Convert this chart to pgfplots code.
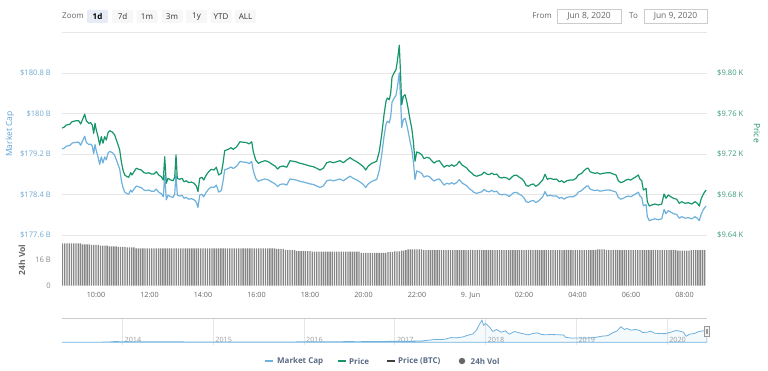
\documentclass[border=0pt]{standalone}
\usepackage{pgfplots}
\pgfplotsset{compat=1.18}
\usepackage{pgfplotstable}
\usepackage{fontspec}
\setmainfont{Open Sans}
\definecolor{mc}{HTML}{6FB1DD}
\definecolor{pr}{HTML}{17966C}
\definecolor{mclab}{HTML}{6FA8D2}
\definecolor{prlab}{HTML}{3C9A76}
\definecolor{mctit}{HTML}{5DA3D6}
\definecolor{prtit}{HTML}{1E8F64}
\definecolor{gridc}{HTML}{E6E6E6}
\definecolor{xlab}{HTML}{666666}
\definecolor{vlab}{HTML}{8A8A8A}
\definecolor{navlab}{HTML}{999999}
\definecolor{legtxt}{HTML}{5A6A85}
\definecolor{volc}{HTML}{858585}
\definecolor{selbtn}{HTML}{E6EBF5}
\definecolor{btn}{HTML}{F7F7F7}
\definecolor{boxc}{HTML}{CCCCCC}
\definecolor{handle}{HTML}{F2F2F2}
\newcommand\tlfont{\fontsize{7.6}{9}\selectfont}
\newcommand\xlfont{\fontsize{7.2}{9}\selectfont}
\newcommand\uifont{\fontsize{8}{10}\selectfont}
\newcommand\datefont{\fontsize{8.5}{10}\selectfont}
\newcommand\legfont{\fontsize{8}{10}\selectfont\bfseries}
\newcommand\titfont{\fontsize{8.5}{10}\selectfont}

\pgfplotstableread{
h p m
8.729 9.7457 179.301
8.804 9.7464 179.313
8.890 9.7486 179.355
9.017 9.7493 179.368
9.103 9.7519 179.415
9.264 9.7529 179.433
9.353 9.7529 179.433
9.428 9.7496 179.373
9.488 9.7536 179.446
9.578 9.7592 179.550
9.637 9.7529 179.433
9.727 9.7503 179.386
9.802 9.7509 179.397
9.862 9.7486 179.355
9.914 9.7404 179.204
9.963 9.7503 179.386
10.011 9.7437 179.264
10.075 9.7371 179.143
10.138 9.7289 178.992
10.198 9.7371 179.143
10.262 9.7306 179.023
10.325 9.7371 179.143
10.385 9.7338 179.083
10.449 9.7410 179.215
10.512 9.7430 179.252
10.609 9.7417 179.228
10.699 9.7388 179.174
10.796 9.7312 179.034
10.886 9.7240 178.901
10.946 9.7124 178.688
11.009 9.7042 178.538
11.073 9.6993 178.447
11.159 9.6976 178.416
11.222 9.6970 178.405
11.297 9.7015 178.488
11.346 9.6993 178.447
11.421 9.7025 178.507
11.507 9.7059 178.568
11.596 9.7049 178.550
11.693 9.7042 178.538
11.794 9.7015 178.488
11.880 9.7009 178.478
11.970 9.7015 178.488
12.067 9.7002 178.465
12.168 9.7002 178.465
12.254 9.7025 178.507
12.343 9.6993 178.447
12.441 9.6976 178.416
12.516 9.6943 178.356
12.568 9.7173 178.779
12.628 9.6911 178.296
12.692 9.6960 178.387
12.793 9.6943 178.356
12.879 9.6936 178.343
12.942 9.6970 178.405
12.991 9.7190 178.810
13.039 9.6960 178.387
13.129 9.6950 178.369
13.215 9.6960 178.387
13.290 9.6926 178.325
13.376 9.6936 178.343
13.465 9.6917 178.307
13.563 9.6923 178.319
13.664 9.6911 178.296
13.750 9.6884 178.247
13.813 9.6828 178.143
13.877 9.6960 178.387
13.963 9.6970 178.405
14.026 9.6943 178.356
14.123 9.6993 178.447
14.213 9.7025 178.507
14.310 9.7049 178.550
14.411 9.7042 178.538
14.497 9.7069 178.587
14.587 9.6993 178.447
14.684 9.7009 178.478
14.748 9.7108 178.659
14.811 9.7233 178.888
14.946 9.7246 178.914
15.047 9.7262 178.943
15.133 9.7246 178.914
15.260 9.7272 178.961
15.383 9.7321 179.052
15.507 9.7316 179.041
15.634 9.7312 179.034
15.720 9.7299 179.010
15.821 9.7321 179.052
15.880 9.7223 178.870
15.970 9.7141 178.719
16.067 9.7108 178.659
16.195 9.7124 178.688
16.318 9.7134 178.707
16.441 9.7124 178.688
16.568 9.7101 178.647
16.692 9.7081 178.610
16.793 9.7052 178.556
16.878 9.7075 178.598
17.002 9.7081 178.610
17.129 9.7069 178.587
17.252 9.7134 178.707
17.376 9.7128 178.696
17.503 9.7121 178.683
17.626 9.7108 178.659
17.749 9.7101 178.647
17.877 9.7091 178.628
18.000 9.7081 178.610
18.123 9.7075 178.598
18.250 9.7059 178.568
18.374 9.7042 178.538
18.497 9.7059 178.568
18.624 9.7114 178.670
18.748 9.7124 178.688
18.871 9.7114 178.670
18.998 9.7124 178.688
19.121 9.7134 178.707
19.245 9.7114 178.670
19.372 9.7141 178.719
19.495 9.7164 178.761
19.619 9.7141 178.719
19.746 9.7124 178.688
19.869 9.7101 178.647
19.992 9.7075 178.598
20.082 9.7042 178.538
20.179 9.7081 178.610
20.307 9.7108 178.659
20.493 9.7128 178.696
20.591 9.7227 178.877
20.680 9.7391 179.179
20.766 9.7588 179.542
20.841 9.7721 179.786
20.890 9.7753 179.846
20.964 9.7736 179.815
21.017 9.7802 179.937
21.065 9.7958 180.222
21.140 9.8000 180.300
21.215 9.8033 180.360
21.264 9.8116 180.513
21.338 9.8274 180.803
21.391 9.7951 180.209
21.428 9.7687 179.724
21.488 9.7770 179.877
21.551 9.7786 179.906
21.615 9.7721 179.786
21.675 9.7638 179.633
21.738 9.7539 179.452
21.802 9.7457 179.301
21.862 9.7325 179.059
21.925 9.7128 178.696
21.989 9.7220 178.865
22.086 9.7210 178.846
22.176 9.7193 178.816
22.262 9.7154 178.743
22.363 9.7167 178.768
22.460 9.7160 178.756
22.549 9.7134 178.707
22.635 9.7111 178.665
22.736 9.7128 178.696
22.834 9.7134 178.707
22.923 9.7101 178.647
23.009 9.7069 178.587
23.110 9.7088 178.623
23.207 9.7079 178.605
23.297 9.7094 178.634
23.383 9.7079 178.605
23.484 9.7094 178.634
23.581 9.7128 178.696
23.671 9.7094 178.634
23.757 9.7079 178.605
23.858 9.7062 178.574
23.955 9.7029 178.514
24.045 9.7012 178.483
24.131 9.6990 178.441
24.232 9.6980 178.423
24.329 9.6990 178.441
24.419 9.6996 178.452
24.505 9.7022 178.501
24.606 9.7002 178.465
24.703 9.6996 178.452
24.792 9.7012 178.483
24.878 9.6996 178.452
24.979 9.7002 178.465
25.077 9.6970 178.405
25.166 9.6963 178.392
25.252 9.6970 178.405
25.353 9.6963 178.392
25.450 9.6946 178.361
25.540 9.6970 178.405
25.626 9.6990 178.441
25.727 9.6990 178.441
25.824 9.6970 178.405
25.914 9.6956 178.379
26.000 9.6930 178.332
26.075 9.6891 178.260
26.161 9.6881 178.241
26.250 9.6897 178.270
26.348 9.6904 178.283
26.437 9.6881 178.241
26.535 9.6897 178.270
26.699 9.6943 178.356
26.785 9.7000 178.459
26.871 9.6950 178.369
26.972 9.6960 178.387
27.095 9.6950 178.369
27.222 9.6950 178.369
27.320 9.6926 178.325
27.409 9.6936 178.343
27.495 9.6917 178.307
27.596 9.6936 178.343
27.720 9.6943 178.356
27.843 9.6943 178.356
27.944 9.6960 178.387
28.030 9.6993 178.447
28.157 9.7009 178.478
28.243 9.7035 178.525
28.344 9.7059 178.568
28.404 9.7059 178.568
28.467 9.7025 178.507
28.568 9.7015 178.488
28.654 9.7009 178.478
28.740 9.7015 178.488
28.841 9.7002 178.465
28.964 9.7009 178.478
29.092 9.7015 178.488
29.215 9.7015 178.488
29.338 9.7002 178.465
29.439 9.6993 178.447
29.525 9.6936 178.343
29.615 9.6917 178.307
29.712 9.6926 178.325
29.813 9.6943 178.356
29.899 9.6950 178.369
29.989 9.6943 178.356
30.086 9.6960 178.387
30.187 9.6976 178.416
30.273 9.6993 178.447
30.336 9.6950 178.369
30.400 9.6936 178.343
30.460 9.6844 178.174
30.561 9.6861 178.205
30.609 9.6729 177.962
30.684 9.6686 177.883
30.774 9.6696 177.902
30.897 9.6706 177.920
31.020 9.6696 177.902
31.148 9.6706 177.920
31.234 9.6805 178.101
31.308 9.6763 178.023
31.394 9.6795 178.083
31.484 9.6778 178.052
31.581 9.6763 178.023
31.708 9.6753 178.005
31.805 9.6713 177.932
31.895 9.6729 177.962
32.019 9.6713 177.932
32.142 9.6719 177.943
32.269 9.6706 177.920
32.392 9.6729 177.962
32.478 9.6713 177.932
32.553 9.6686 177.883
32.617 9.6753 178.005
32.703 9.6805 178.101
32.804 9.6844 178.174
}\maindata

\begin{document}
\begin{tikzpicture}
\useasboundingbox (0pt,0pt) rectangle (768pt,370pt);

% ---------- main panel: market cap ----------
\begin{axis}[
  at={(62pt,135pt)}, anchor=south west, scale only axis,
  width=645pt, height=202.5pt,
  xmin=8.729, xmax=32.84, ymin=177.6, ymax=181.6,
  xtick=\empty,
  ytick={177.6,178.4,179.2,180,180.8,181.6},
  yticklabels={\$177.6 B,\$178.4 B,\$179.2 B,\$180 B,\$180.8 B,{}},
  ymajorgrids, major grid style={gridc, line width=0.7pt},
  axis line style={draw=none}, major tick length=0pt,
  yticklabel style={font=\tlfont, text=mclab, anchor=east, inner sep=0pt, xshift=-11pt},
]
\addplot[mc, line width=1.2pt, line join=round] table[x=h,y=m]{\maindata};
\end{axis}

% ---------- main panel: price ----------
\begin{axis}[
  at={(62pt,135pt)}, anchor=south west, scale only axis,
  width=645pt, height=202.5pt,
  xmin=8.729, xmax=32.84, ymin=9.64, ymax=9.84,
  xtick=\empty,
  ytick={9.64,9.68,9.72,9.76,9.80},
  yticklabels={\$9.64 K,\$9.68 K,\$9.72 K,\$9.76 K,\$9.80 K},
  yticklabel pos=right,
  axis line style={draw=none}, major tick length=0pt,
  yticklabel style={font=\tlfont, text=prlab, anchor=west, inner sep=0pt, xshift=10pt},
]
\addplot[pr, line width=1.2pt, line join=round] table[x=h,y=p]{\maindata};
\end{axis}

% ---------- volume panel ----------
\begin{axis}[
  at={(62pt,84.3pt)}, anchor=south west, scale only axis,
  width=645pt, height=51.4pt,
  xmin=523.7, xmax=1970.4, ymin=0, ymax=32,
  ytick={0,16}, yticklabels={0,16 B},
  xtick={600,720,840,960,1080,1200,1320,1440,1560,1680,1800,1920},
  xticklabels={10:00,12:00,14:00,16:00,18:00,20:00,22:00,9. Jun,02:00,04:00,06:00,08:00},
  axis line style={draw=none}, major tick length=0pt,
  yticklabel style={font=\tlfont, text=vlab, anchor=east, inner sep=0pt, xshift=-11pt},
  xticklabel style={font=\xlfont, text=xlab, anchor=north, inner sep=0pt, yshift=-6.5pt},
]
\addplot[ybar, bar width=3.0, fill=volc, draw=none] coordinates {
(525,26.3)(530,26.3)(535,26.3)(540,26.3)(545,26.3)(550,26.3)(555,26.3)(560,26.3)(565,26.3)
(570,25.8)(575,25.8)(580,25.8)(585,25.8)
(590,25.4)(595,25.4)(600,25.4)(605,25.4)
(610,24.9)(615,24.9)(620,24.9)(625,24.9)
(630,24.5)(635,24.5)(640,24.5)(645,24.5)
(650,24.1)(655,24.1)(660,24.1)(665,24.1)
(670,23.8)(675,23.8)(680,23.8)(685,23.8)
(690,23.3)(695,23.3)(700,23.3)(705,23.3)(710,23.3)(715,23.3)(720,23.3)(725,23.3)(730,23.3)(735,23.3)
(740,23.3)(745,23.3)(750,23.3)(755,23.3)(760,23.3)(765,23.3)(770,23.3)(775,23.3)(780,23.3)(785,23.3)
(790,23.3)(795,23.3)(800,23.3)(805,23.3)(810,23.3)(815,23.3)(820,23.3)(825,23.3)(830,23.3)(835,23.3)
(840,23.3)(845,23.3)(850,23.3)(855,23.3)(860,23.3)(865,23.3)(870,23.3)(875,23.3)(880,23.3)(885,23.3)
(890,23.3)(895,23.3)(900,23.3)(905,23.3)(910,23.3)(915,23.3)(920,23.3)(925,23.3)(930,23.3)(935,23.3)
(940,23.3)(945,23.3)(950,23.3)(955,23.3)(960,23.3)(965,23.3)(970,23.3)(975,23.3)(980,23.3)(985,23.3)
(990,23.3)(995,23.3)(1000,23.3)
(1005,22.9)(1010,22.9)(1015,22.9)(1020,22.9)
(1025,22.2)(1030,22.2)(1035,22.2)(1040,22.2)(1045,22.2)
(1050,21.6)(1055,21.6)(1060,21.6)(1065,21.6)(1070,21.6)(1075,21.6)(1080,21.6)
(1085,21.2)(1090,21.2)(1095,21.2)(1100,21.2)(1105,21.2)(1110,21.2)(1115,21.2)(1120,21.2)(1125,21.2)(1130,21.2)
(1135,21.2)(1140,21.2)(1145,21.2)(1150,21.2)(1155,21.2)(1160,21.2)(1165,21.2)(1170,21.2)(1175,21.2)(1180,21.2)
(1185,21.2)(1190,21.2)
(1195,20.4)(1200,20.4)(1205,20.4)(1210,20.4)(1215,20.4)(1220,20.4)(1225,20.4)(1230,20.4)(1235,20.4)(1240,20.4)
(1245,20.4)(1250,20.4)
(1255,20.9)(1260,20.9)(1265,20.9)
(1270,21.4)(1275,21.4)(1280,21.4)
(1285,21.8)(1290,21.8)
(1295,22.2)
(1300,22.6)(1305,22.6)(1310,22.6)(1315,22.6)(1320,22.6)(1325,22.6)(1330,22.6)
(1335,22.2)(1340,22.2)(1345,22.2)(1350,22.2)(1355,22.2)(1360,22.2)(1365,22.2)(1370,22.2)(1375,22.2)(1380,22.2)
(1385,22.2)(1390,22.2)(1395,22.2)(1400,22.2)(1405,22.2)(1410,22.2)(1415,22.2)(1420,22.2)(1425,22.2)(1430,22.2)
(1435,22.2)(1440,22.2)(1445,22.2)(1450,22.2)(1455,22.2)(1460,22.2)(1465,22.2)(1470,22.2)(1475,22.2)(1480,22.2)
(1485,22.2)(1490,22.2)(1495,22.2)(1500,22.2)(1505,22.2)(1510,22.2)(1515,22.2)(1520,22.2)(1525,22.2)(1530,22.2)
(1535,22.2)(1540,22.2)(1545,22.2)(1550,22.2)(1555,22.2)(1560,22.2)(1565,22.2)(1570,22.2)(1575,22.2)(1580,22.2)
(1585,22.2)(1590,22.2)(1595,22.2)(1600,22.2)(1605,22.2)(1610,22.2)(1615,22.2)(1620,22.2)(1625,22.2)(1630,22.2)
(1635,22.2)(1640,22.2)(1645,22.2)(1650,22.2)(1655,22.2)(1660,22.2)(1665,22.2)(1670,22.2)(1675,22.2)(1680,22.2)
(1685,22.2)(1690,22.2)(1695,22.2)(1700,22.2)(1705,22.2)(1710,22.2)(1715,22.2)(1720,22.2)
(1725,22.6)(1730,22.6)(1735,22.6)(1740,22.6)
(1745,22.2)(1750,22.2)(1755,22.2)(1760,22.2)(1765,22.2)(1770,22.2)(1775,22.2)(1780,22.2)(1785,22.2)(1790,22.2)
(1795,22.2)(1800,22.2)(1805,22.2)(1810,22.2)(1815,22.2)(1820,22.2)(1825,22.2)(1830,22.2)(1835,22.2)(1840,22.2)
(1845,22.2)(1850,22.2)(1855,22.2)(1860,22.2)(1865,22.2)(1870,22.2)(1875,22.2)(1880,22.2)(1885,22.2)(1890,22.2)
(1895,22.2)(1900,22.2)
(1905,21.9)(1910,21.9)(1915,21.9)(1920,21.9)(1925,21.9)(1930,21.9)
(1935,22.2)(1940,22.2)(1945,22.2)(1950,22.2)(1955,22.2)(1960,22.2)(1965,22.2)
};
\end{axis}

% ---------- navigator ----------
\begin{axis}[
  at={(62pt,25pt)}, anchor=south west, scale only axis,
  width=645pt, height=27pt,
  xmin=2013.333, xmax=2020.44, ymin=-40, ymax=360,
  ytick=\empty,
  xtick={2014,2015,2016,2017,2018,2019,2020},
  xticklabels={2014,2015,2016,2017,2018,2019,2020},
  xmajorgrids, major grid style={gridc, line width=0.7pt},
  axis line style={draw=none}, major tick length=0pt,
  xticklabel style={font=\xlfont, text=navlab, anchor=south west, inner sep=0pt, xshift=2pt, yshift=2pt},
]
\addplot[draw=mc, line width=0.8pt, fill=mc, fill opacity=0.08] coordinates {
(2013.333,1.5)(2013.45,1.3)(2013.6,1.4)(2013.75,1.6)(2013.85,4)(2013.92,12)(2013.97,9)(2014.05,10)
(2014.15,7)(2014.3,6)(2014.45,8)(2014.6,7)(2014.75,5)(2014.9,4.5)(2015.0,3.5)(2015.2,3.5)(2015.4,3.3)
(2015.55,4)(2015.7,3.5)(2015.85,5)(2015.95,6.5)(2016.1,6)(2016.3,7)(2016.45,10)(2016.6,9.5)(2016.8,10.5)
(2016.95,14)(2017.05,15)(2017.2,17)(2017.3,20)(2017.4,35)(2017.45,42)(2017.5,40)(2017.55,45)(2017.62,70)
(2017.68,65)(2017.75,80)(2017.82,110)(2017.86,125)(2017.9,180)(2017.93,260)(2017.96,326)(2017.98,250)
(2018.0,280)(2018.04,230)(2018.08,160)(2018.12,190)(2018.17,150)(2018.22,170)(2018.26,120)(2018.32,160)
(2018.37,140)(2018.42,125)(2018.47,110)(2018.52,130)(2018.57,140)(2018.62,115)(2018.67,112)(2018.72,115)
(2018.8,112)(2018.86,108)(2018.88,75)(2018.95,62)(2019.0,65)(2019.1,62)(2019.2,70)(2019.28,90)(2019.35,100)
(2019.4,140)(2019.45,170)(2019.49,230)(2019.53,190)(2019.56,205)(2019.6,180)(2019.65,190)(2019.7,175)
(2019.73,145)(2019.78,150)(2019.82,165)(2019.86,135)(2019.92,130)(2019.98,128)(2020.04,150)(2020.1,175)
(2020.14,165)(2020.18,150)(2020.21,90)(2020.25,120)(2020.3,130)(2020.35,160)(2020.4,170)(2020.44,175)
} \closedcycle;
\end{axis}

\begin{scope}[x=1pt,y=1pt]
\draw[boxc, line width=0.7pt] (62,52) -- (707,52);
\draw[fill=handle, draw=navlab, line width=0.5pt] (704,33.5) rectangle (709,44);
\draw[navlab, line width=0.4pt] (705.8,36.5) -- (705.8,41) (707.2,36.5) -- (707.2,41);

% ---------- axis titles ----------
\node[rotate=90, font=\titfont, text=mctit] at (10,236) {Market Cap};
\node[rotate=-90, font=\titfont, text=prtit] at (757,237) {Price};
\node[rotate=90, font=\titfont\bfseries, text=xlab] at (22,110) {24h Vol};

% ---------- range selector ----------
\node[anchor=west, font=\uifont, text=xlab, inner sep=0pt] at (62,354) {Zoom};
\fill[selbtn, rounded corners=1pt] (87,347) rectangle (108,360);
\node[font=\uifont\bfseries, text=black] at (97.5,353.5) {1d};
\foreach \cx/\lab in {122.5/7d,147/1m,172/3m,196.5/1y,221/YTD,245.5/ALL}{
  \fill[btn, rounded corners=1pt] (\cx-10.5,347) rectangle (\cx+10.5,360);
  \node[font=\uifont, text=black!80] at (\cx,353.5) {\lab};
}
\node[anchor=east, font=\uifont, text=xlab, inner sep=0pt] at (552,354) {From};
\draw[boxc, line width=0.6pt] (557,347) rectangle (621,361);
\node[font=\datefont, text=xlab] at (589,354) {Jun 8, 2020};
\node[anchor=west, font=\uifont, text=xlab, inner sep=0pt] at (629,354) {To};
\draw[boxc, line width=0.6pt] (644,347) rectangle (707,361);
\node[font=\datefont, text=xlab] at (675.5,354) {Jun 9, 2020};

% ---------- legend ----------
\draw[mc, line width=1.6pt] (265,9) -- (273,9);
\node[anchor=west, font=\legfont, text=legtxt, inner sep=0pt] at (277,9) {Market Cap};
\draw[pr, line width=1.6pt] (338,9) -- (346,9);
\node[anchor=west, font=\legfont, text=legtxt, inner sep=0pt] at (349,9) {Price};
\draw[black!75, line width=1.6pt] (387,9) -- (395,9);
\node[anchor=west, font=\legfont, text=legtxt, inner sep=0pt] at (398,9) {Price (BTC)};
\fill[black!60] (462,9) circle (3.2);
\node[anchor=west, font=\legfont, text=legtxt, inner sep=0pt] at (470.5,9) {24h Vol};
\end{scope}
\end{tikzpicture}
\end{document}
